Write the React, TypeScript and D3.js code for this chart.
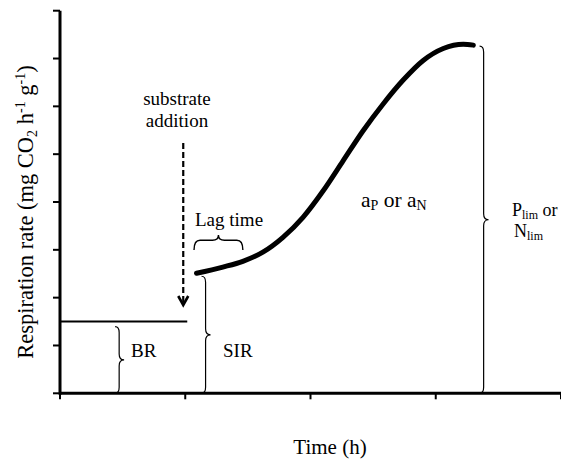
import React from "react";
import * as d3 from "d3";

// Axis ticks (no labels shown in the reference)
const xTicks = [0, 1, 2, 3, 4];
const yTicks = [0, 1, 2, 3, 4, 5, 6, 7, 8];

// Basal respiration level and substrate addition time
const basalRate = 1.5;
const additionTime = 1.0;

// Substrate-induced respiration curve (time h, rate)
const curveTime = [1.09, 1.3, 1.46, 1.62, 1.78, 1.94, 2.1, 2.26, 2.42, 2.58, 2.74, 2.9, 3.06, 3.22, 3.3];
const curveRate = [2.51, 2.64, 2.76, 2.95, 3.26, 3.68, 4.23, 4.86, 5.49, 6.05, 6.55, 6.96, 7.21, 7.3, 7.28];

const W = 561;
const H = 465;
const FONT = "'Liberation Serif', 'Times New Roman', serif";

function vBrace(x0: number, y1: number, y2: number, w: number) {
  const xm = x0 + w * 0.45;
  const xt = x0 + w;
  const ym = (y1 + y2) / 2;
  const r = Math.min(6, (y2 - y1) / 6);
  return `M${x0},${y1} Q${xm},${y1} ${xm},${y1 + r} L${xm},${ym - r} Q${xm},${ym} ${xt},${ym} Q${xm},${ym} ${xm},${ym + r} L${xm},${y2 - r} Q${xm},${y2} ${x0},${y2}`;
}

function hBrace(x1: number, x2: number, y0: number, h: number) {
  const yl = y0 - h * 0.65;
  const yt = y0 - h;
  const xm = (x1 + x2) / 2;
  const r = Math.min(6, (x2 - x1) / 6);
  return `M${x1},${y0} Q${x1},${yl} ${x1 + r},${yl} L${xm - r},${yl} Q${xm},${yl} ${xm},${yt} Q${xm},${yl} ${xm + r},${yl} L${x2 - r},${yl} Q${x2},${yl} ${x2},${y0}`;
}

const T: React.CSSProperties = { fontFamily: FONT, fill: "#000" };

export default function App() {
  const x = d3.scaleLinear().domain([0, 4]).range([60, 561]);
  const y = d3.scaleLinear().domain([0, 8]).range([393.3, 10.7]);

  const pts: [number, number][] = curveTime.map((t, i) => [t, curveRate[i]]);
  const line = d3
    .line<[number, number]>()
    .x((d) => x(d[0]))
    .y((d) => y(d[1]))
    .curve(d3.curveMonotoneX);

  const x0 = x(0);
  const y0 = y(0);
  const arrowX = x(additionTime) - 2;
  const startY = y(curveRate[0]);
  const topY = y(d3.max(curveRate) as number);

  return (
    <svg
      width={W}
      height={H}
      style={{ position: "absolute", left: 0, top: 0, background: "#fff" }}
    >
      <rect width={W} height={H} fill="#fff" />
      {/* axes */}
      <line x1={x0} x2={x(4)} y1={y0} y2={y0} stroke="#000" strokeWidth={3} />
      <line x1={x0} x2={x0} y1={y(8)} y2={y0 + 1.5} stroke="#000" strokeWidth={3} />
      {yTicks.map((t) => (
        <line key={"yt" + t} x1={x0 - 7} x2={x0} y1={y(t)} y2={y(t)} stroke="#000" strokeWidth={2} />
      ))}
      {xTicks.map((t) => (
        <line key={"xt" + t} x1={x(t)} x2={x(t)} y1={y0} y2={y0 + 6} stroke="#000" strokeWidth={2} />
      ))}

      {/* basal respiration line */}
      <line x1={x0} x2={x(additionTime) + 2} y1={y(basalRate)} y2={y(basalRate)} stroke="#000" strokeWidth={2} />

      {/* substrate addition dashed arrow */}
      <line x1={arrowX} x2={arrowX} y1={143} y2={303} stroke="#000" strokeWidth={2.2} strokeDasharray="6,3" />
      <path d={`M${arrowX - 5},${296} L${arrowX},${305} L${arrowX + 5},${296}`} fill="none" stroke="#000" strokeWidth={2.6} />
      <text x={177} y={105} fontSize={19} textAnchor="middle" style={T}>substrate</text>
      <text x={177} y={127} fontSize={19} textAnchor="middle" style={T}>addition</text>

      {/* response curve */}
      <path d={line(pts) || ""} fill="none" stroke="#000" strokeWidth={5} strokeLinecap="round" strokeLinejoin="round" />

      {/* braces */}
      <path d={vBrace(x(0.44), y(basalRate) + 5, y0, 9)} fill="none" stroke="#000" strokeWidth={1.2} />
      <path d={vBrace(x(1.13), startY + 3, y0, 9)} fill="none" stroke="#000" strokeWidth={1.2} />
      <path d={vBrace(x(3.35), topY + 2, y0, 9)} fill="none" stroke="#000" strokeWidth={1.2} />
      <path d={hBrace(x(1.07), x(1.46), 250, 15)} fill="none" stroke="#000" strokeWidth={1.4} />

      {/* labels */}
      <text x={131} y={357} fontSize={19} style={T}>BR</text>
      <text x={223} y={357} fontSize={19} style={T}>SIR</text>
      <text x={195} y={226} fontSize={19} style={T}>Lag time</text>
      <text x={361} y={207} fontSize={21.5} style={T}>
        a<tspan fontSize={14} dy={3}>P</tspan>
        <tspan dy={-3}> or a</tspan>
        <tspan fontSize={14} dy={3}>N</tspan>
      </text>
      <text x={512} y={216} fontSize={18} style={T}>
        P<tspan fontSize={12} dy={3}>lim</tspan>
        <tspan dy={-3}> or</tspan>
      </text>
      <text x={514} y={237} fontSize={18} style={T}>
        N<tspan fontSize={12} dy={3}>lim</tspan>
      </text>

      {/* axis titles */}
      <text x={330} y={454} fontSize={21} textAnchor="middle" style={T}>Time (h)</text>
      <g transform={`translate(33,212) rotate(-90)`}>
        <text x={0} y={0} fontSize={22.5} textAnchor="middle" style={T}>
          Respiration rate  (mg CO<tspan fontSize={14} dy={4}>2</tspan>
          <tspan dy={-4}> h</tspan>
          <tspan fontSize={14} dy={-8}>-1</tspan>
          <tspan dy={8}> g</tspan>
          <tspan fontSize={14} dy={-8}>-1</tspan>
          <tspan dy={8}>)</tspan>
        </text>
      </g>
    </svg>
  );
}
